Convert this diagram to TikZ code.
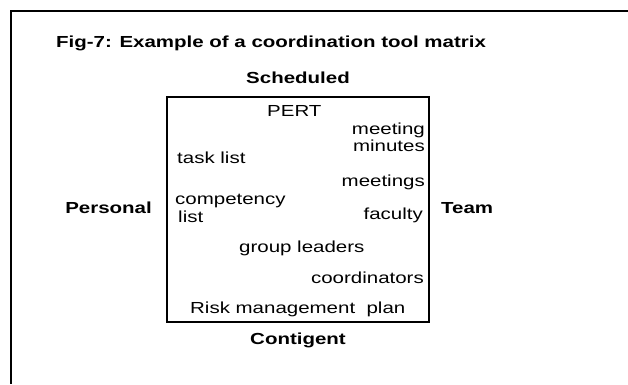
\documentclass[tikz,border=0pt]{standalone}
\usepackage{fontspec}
\setmainfont{Liberation Sans}[FakeStretch=1.28]
\usetikzlibrary{positioning}
\tikzset{cell/.style={inner sep=0pt,font=\fontsize{16}{17}\selectfont},axislab/.style={inner sep=0pt,font=\fontsize{16}{17}\selectfont\bfseries}}

\begin{document}
\begin{tikzpicture}[x=1pt,y=-1pt]
\useasboundingbox (0,0) rectangle (628,384);
% frame round the figure
\draw[line width=2pt] (628,11) -- (11,11) -- (11,384);
\node[axislab,anchor=base west] (title) at (56,47) {Fig-7: Example of a coordination tool matrix};
\node[draw,line width=1.5pt,minimum width=262pt,minimum height=225pt,inner sep=0pt] (grid) at (298,209.5) {};
\node[axislab,above=12pt of grid] (sched) {Scheduled};
\node[axislab,below=10pt of grid] (contig) {Contigent};
\node[axislab,anchor=base east] (personal) at (152,213) {Personal};
\node[axislab,anchor=base west] (team) at (441,213) {Team};
% tools inside the matrix
\node[cell,anchor=base west] (pert) at (267,116) {PERT};
\node[cell,anchor=base east] (meeting) at (425,134) {meeting};
\node[cell,anchor=base east] (minutes) at (425,151) {minutes};
\node[cell,anchor=base west] (tasks) at (177,163) {task list};
\node[cell,anchor=base east] (meetings) at (425,186) {meetings};
\node[cell,anchor=base west] (compet) at (175,204) {competency};
\node[cell,anchor=base west] (complist) at (178,222) {list};
\node[cell,anchor=base east] (faculty) at (423,219) {faculty};
\node[cell,anchor=base west] (leaders) at (239,252) {group leaders};
\node[cell,anchor=base east] (coord) at (424,283) {coordinators};
\node[cell,anchor=base west] (risk) at (190,313) {Risk management\ \ plan};
\end{tikzpicture}
\end{document}
